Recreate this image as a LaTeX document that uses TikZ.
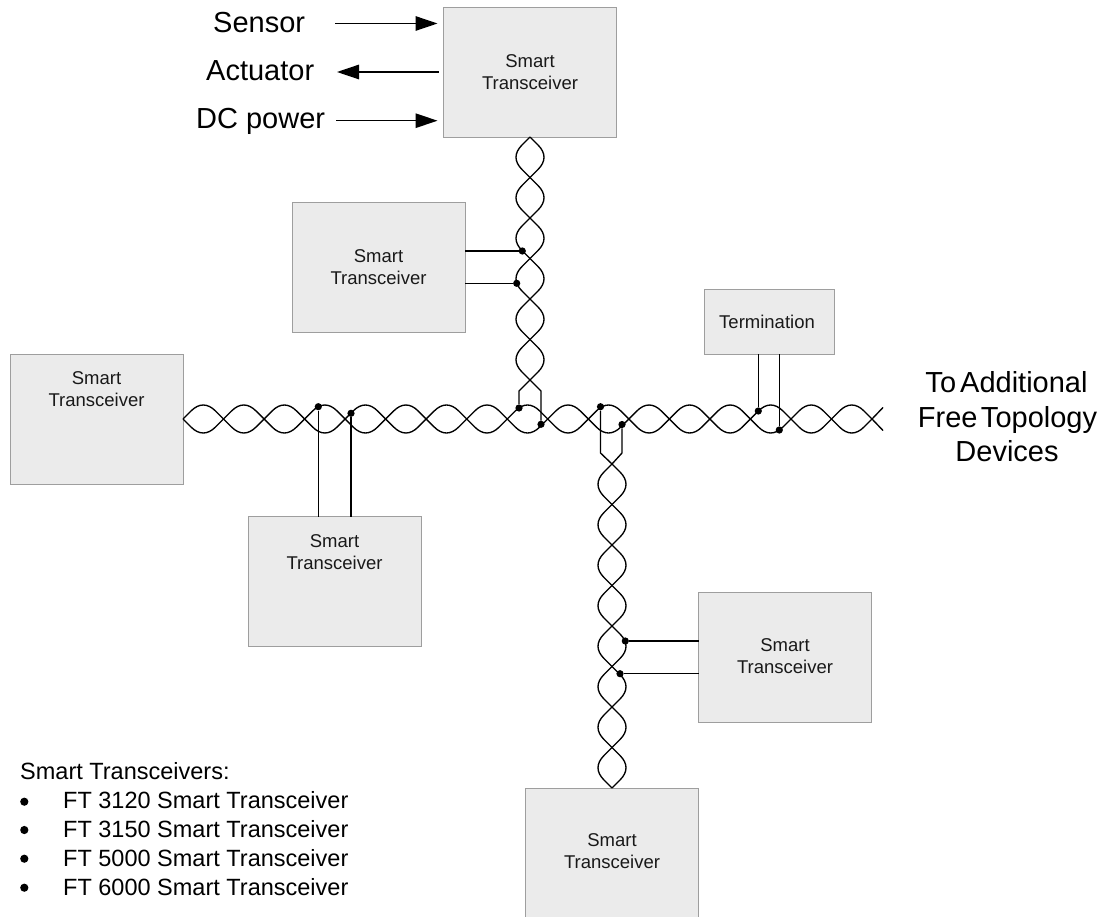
\documentclass[tikz,border=0pt]{standalone}
\usepackage{fontspec}
\setmainfont{Liberation Sans}
\usetikzlibrary{arrows.meta}
\newcommand{\fsbox}{\fontsize{18.5}{22}\selectfont}
\newcommand{\fsbig}{\fontsize{29}{35}\selectfont}
\newcommand{\fsleg}{\fontsize{23.5}{28}\selectfont}
\newcommand{\htwist}[3]{% x0, y, n
  \foreach \i in {1,...,#3}{
    \pgfmathsetmacro{\xa}{#1+40.53*(\i-1)}
    \pgfmathsetmacro{\xb}{#1+40.53*\i}
    \draw[wire] (\xa,#2) -- (\xa+8,#2-8) .. controls (\xa+16,#2-16) and (\xb-16,#2-16) .. (\xb-8,#2-8) -- (\xb,#2);
    \draw[wire] (\xa,#2) -- (\xa+8,#2+8) .. controls (\xa+16,#2+16) and (\xb-16,#2+16) .. (\xb-8,#2+8) -- (\xb,#2);
  }}
\newcommand{\vtwist}[3]{% x, y0, n
  \foreach \i in {1,...,#3}{
    \pgfmathsetmacro{\ya}{#2+40.5*(\i-1)}
    \pgfmathsetmacro{\yb}{#2+40.5*\i}
    \draw[wire] (#1,\ya) -- (#1-8,\ya+8) .. controls (#1-16,\ya+16) and (#1-16,\yb-16) .. (#1-8,\yb-8) -- (#1,\yb);
    \draw[wire] (#1,\ya) -- (#1+8,\ya+8) .. controls (#1+16,\ya+16) and (#1+16,\yb-16) .. (#1+8,\yb-8) -- (#1,\yb);
  }}
\tikzset{
  devbox/.style={draw=black!38,fill=black!8,line width=0.9pt,minimum width=173pt,minimum height=130pt,inner sep=0pt,outer sep=0pt},
  wire/.style={line width=1.35pt,black,line join=round},
  lead/.style={line width=1.35pt,black},
  junction/.style={circle,fill=black,inner sep=0pt,minimum size=7.2pt},
  boxtext/.style={align=center,font=\fsbox,text=black!90,inner sep=0pt},
  bigtext/.style={anchor=base west,font=\fsbig,inner sep=0pt},
  legtext/.style={anchor=base west,font=\fsleg,inner sep=0pt},
  bulletdot/.style={circle,fill=black,inner sep=0pt,minimum size=8.2pt},
  sig/.style={line width=1.35pt,-{Triangle[length=22pt,width=14.5pt]}}
}
\begin{document}
\begin{tikzpicture}[x=1pt,y=-1pt]
\useasboundingbox (0,0) rectangle (1107,917);
% boxes
\node[devbox] (top) at (530,72) {};
\node[devbox] (upper) at (378.5,267.5) {};
\node[devbox] (left) at (96.5,419) {};
\node[devbox] (lowerleft) at (334.5,581.5) {};
\node[devbox] (right) at (785,657.5) {};
\node[devbox] (bottom) at (612,853) {};
\node[devbox,minimum width=130pt,minimum height=65pt] (term) at (769.3,321.5) {};
% box texts
\node[boxtext] (ttop) at (530,72.5) {Smart\\Transceiver};
\node[boxtext] (tupper) at (378.5,267) {Smart\\Transceiver};
\node[boxtext] (tleft) at (96.5,389) {Smart\\Transceiver};
\node[boxtext] (tlowerleft) at (334.5,552) {Smart\\Transceiver};
\node[boxtext] (tright) at (785,656) {Smart\\Transceiver};
\node[boxtext] (tbottom) at (612,851) {Smart\\Transceiver};
\node[boxtext] (tterm) at (767,322) {Termination};
% signal labels
\node[bigtext] (sensor) at (213,33) {Sensor};
\node[bigtext] (actuator) at (206,81) {Actuator};
\node[bigtext] (dcpower) at (196,129) {DC power};
\coordinate (sensortail) at (335,23.5);
\coordinate (actuatortail) at (337,72);
\coordinate (dctail) at (336,120.7);
\draw[sig,shorten >=6pt] (sensortail) -- (sensortail -| top.west);
\draw[sig,shorten <=5pt] (actuatortail -| top.west) -- (actuatortail);
\draw[sig,shorten >=6pt] (dctail) -- (dctail -| top.west);
% twisted pairs
\htwist{183}{419}{17}
\coordinate (hcross) at (872,419);
\coordinate (hendA) at (883,407.5);
\coordinate (hendB) at (883,430.5);
\draw[wire] (hcross) -- (hendA);
\draw[wire] (hcross) -- (hendB);
\vtwist{530}{137}{6}
\vtwist{612}{464}{8}
% junctions
\node[junction] (j1) at (318.3,406.7) {};
\node[junction] (j2) at (351,413.3) {};
\node[junction] (j3) at (519,408) {};
\node[junction] (j4) at (541,424.3) {};
\node[junction] (j5) at (600.5,406.7) {};
\node[junction] (j6) at (622,424.5) {};
\node[junction] (j7) at (758.3,411) {};
\node[junction] (j8) at (779.3,430) {};
\node[junction] (j9) at (522.3,251) {};
\node[junction] (j10) at (516.7,283.3) {};
\node[junction] (j11) at (625.3,641) {};
\node[junction] (j12) at (620,673.7) {};
% leads from the boxes
\draw[lead] (j1) -- (j1 |- lowerleft.north);
\draw[lead] (j2) -- (j2 |- lowerleft.north);
\draw[lead] (j7) -- (j7 |- term.south);
\draw[lead] (j8) -- (j8 |- term.south);
\draw[lead] (j9) -- (j9 -| upper.east);
\draw[lead] (j10) -- (j10 -| upper.east);
\draw[lead] (j11) -- (j11 -| right.west);
\draw[lead] (j12) -- (j12 -| right.west);
% pair ends meeting the horizontal pair
\coordinate (vtopcross) at (530,380);
\coordinate (vtopL) at (519,391);
\coordinate (vtopR) at (541,391);
\draw[wire] (vtopcross) -- (vtopL) -- (j3);
\draw[wire] (vtopcross) -- (vtopR) -- (j4);
\coordinate (vlowcross) at (612,464);
\coordinate (vlowL) at (600.5,453);
\coordinate (vlowR) at (622,453);
\draw[wire] (vlowcross) -- (vlowL) -- (j5);
\draw[wire] (vlowcross) -- (vlowR) -- (j6);
% right text
\node[anchor=base,font=\fsbig,inner sep=0pt] (addl1) at (1006.5,392) {\spaceskip=0.14em To Additional};
\node[anchor=base,font=\fsbig,inner sep=0pt] (addl2) at (1007.5,427) {\spaceskip=0.12em Free Topology};
\node[anchor=base,font=\fsbig,inner sep=0pt] (addl3) at (1007,461) {Devices};
% legend
\node[legtext] (leghead) at (20,779) {Smart Transceivers:};
\node[legtext] (leg1) at (63,808) {FT 3120 Smart Transceiver};
\node[legtext] (leg2) at (63,837) {FT 3150 Smart Transceiver};
\node[legtext] (leg3) at (63,866) {FT 5000 Smart Transceiver};
\node[legtext] (leg4) at (63,895) {FT 6000 Smart Transceiver};
\node[bulletdot] (b1) at (24.3,801.7) {};
\node[bulletdot] (b2) at (24.3,830) {};
\node[bulletdot] (b3) at (24.3,858.7) {};
\node[bulletdot] (b4) at (24.3,887.7) {};
\end{tikzpicture}
\end{document}
